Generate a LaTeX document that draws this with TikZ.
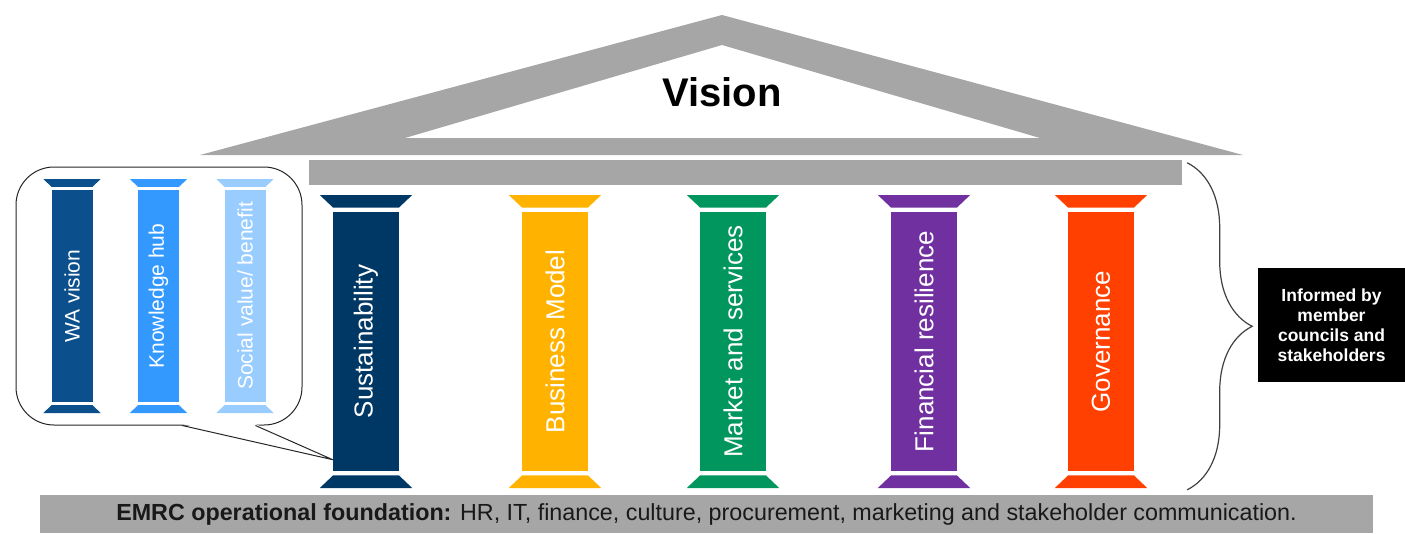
\documentclass[tikz,border=0pt]{standalone}
\usepackage{fontspec}
\setmainfont{Liberation Sans}
\usetikzlibrary{calc,fit,positioning}
\usetikzlibrary{decorations.pathreplacing}
\makeatletter
\tikzset{
  fitting node/.style={
    inner sep=0pt,
    fill=none,
    draw=none,
    reset transform,
    fit={(\pgf@pathminx,\pgf@pathminy) (\pgf@pathmaxx,\pgf@pathmaxy)}
  },
  reset transform/.code={\pgftransformreset}
}
\makeatother
\definecolor{roofgray}{HTML}{A6A6A6}
\definecolor{sustainblue}{HTML}{003865}
\definecolor{businessyellow}{HTML}{FFB300}
\definecolor{marketgreen}{HTML}{00965E}
\definecolor{financepurple}{HTML}{7030A0}
\definecolor{governred}{HTML}{FF4000}
\definecolor{wablue}{HTML}{0B4F8C}
\definecolor{hubblue}{HTML}{3399FF}
\definecolor{socialblue}{HTML}{99CCFF}
\tikzset{
  big label/.style={rotate=90, text=white, font=\fontsize{26}{31}\selectfont},
  small label/.style={rotate=90, text=white, font=\fontsize{21}{25}\selectfont},
  info box/.style={fill=black, text=white, align=center, inner sep=0pt,
    minimum width=147pt, minimum height=114pt,
    font=\bfseries\fontsize{17.5}{20}\selectfont}
}
\newcommand{\pillar}[8]{
    \pgfmathsetmacro{\capW}{#4*1.4} % width of the top of a cap
    \pgfmathsetmacro{\capH}{#4*0.19} % cap height
    \pgfmathsetmacro{\capGap}{#4*0.075} % gap between cap and shaft

    % Caps
    \fill[#5] (#1-\capW/2,#2) -- (#1+\capW/2,#2) -- (#1+#4/2,#2+\capH) -- (#1-#4/2,#2+\capH) -- cycle;
    \fill[#5] (#1-\capW/2,#3) -- (#1+\capW/2,#3) -- (#1+#4/2,#3-\capH) -- (#1-#4/2,#3-\capH) -- cycle;

    % Shaft
    \fill[#5] (#1-#4/2,#2+\capH+\capGap) rectangle (#1+#4/2,#3-\capH-\capGap)
        node[fitting node] (#6) {};
    \node[#7] at (#6) {#8};
}

\begin{document}
\begin{tikzpicture}[x=1pt, y=-1pt]
    \useasboundingbox (0,0) rectangle (1405,533);
    \pgfmathsetmacro{\bigW}{66}
    \pgfmathsetmacro{\smallW}{41}

    % Roof
    \fill[roofgray, even odd rule]
        (200,155) -- (722,15) -- (1243,155) -- cycle
        (405,138) -- (722,45) -- (1040,138) -- cycle;
    \node[font=\bfseries\fontsize{40}{48}\selectfont] (vision) at (722,92) {Vision};
    \fill[roofgray] (309,160) rectangle (1182,185) node[fitting node] (beam) {};

    % Foundation
    \fill[roofgray] (40,495) rectangle (1373,533) node[fitting node] (foundation) {};
    \node[text=black!90, font=\fontsize{23.3}{27}\selectfont] at (foundation)
        {\textbf{EMRC operational foundation:} HR, IT, finance, culture, procurement, marketing and stakeholder communication.};

    % Pillars
    \pillar{366}{195}{488}{\bigW}{sustainblue}{sustain}{big label}{Sustainability}
    \pillar{555}{195}{488}{\bigW}{businessyellow}{business}{big label}{Business Model}
    \pillar{733}{195}{488}{\bigW}{marketgreen}{market}{big label}{Market and services}
    \pillar{924}{195}{488}{\bigW}{financepurple}{finance}{big label}{Financial resilience}
    \pillar{1101}{195}{488}{\bigW}{governred}{governance}{big label}{Governance}

    % Callout with the small pillars
    \pillar{72}{179}{413}{\smallW}{wablue}{wavision}{small label}{WA vision}
    \pillar{158.5}{179}{413}{\smallW}{hubblue}{knowhub}{small label}{Knowledge hub}
    \pillar{245}{179}{413}{\smallW}{socialblue}{socialvalue}{small label}{Social value/ benefit}
    \draw[black!85, line width=1pt, rounded corners=38] (16,167) rectangle (302,425)
        node[fitting node] (callout) {};
    \coordinate (callout tip) at ($(sustain.south west)+(0,-11)$);
    \coordinate (callout a) at ($(callout.south west)!0.581!(callout.south east)$);
    \coordinate (callout b) at ($(callout.south west)!0.836!(callout.south east)$);
    \fill[white] ($(callout a)+(0,-1.5)$) -- (callout tip) -- ($(callout b)+(0,-1.5)$) -- cycle;
    \draw[black!85, line width=1pt] (callout a) -- (callout tip) -- (callout b);

    % Brace and stakeholders box
    \node[info box] (informed) at (1331.5,325) {Informed by\\member\\councils and\\stakeholders};
    \coordinate (brace top) at ($(beam.north east)+(5,3)$);
    \coordinate (brace bottom) at ($(beam.north east |- foundation.north)+(5,-5)$);
    \draw[black!75, line width=1.2pt, decorate, decoration={brace, amplitude=65pt}]
        (brace top) -- (brace bottom);
\end{tikzpicture}
\end{document}
